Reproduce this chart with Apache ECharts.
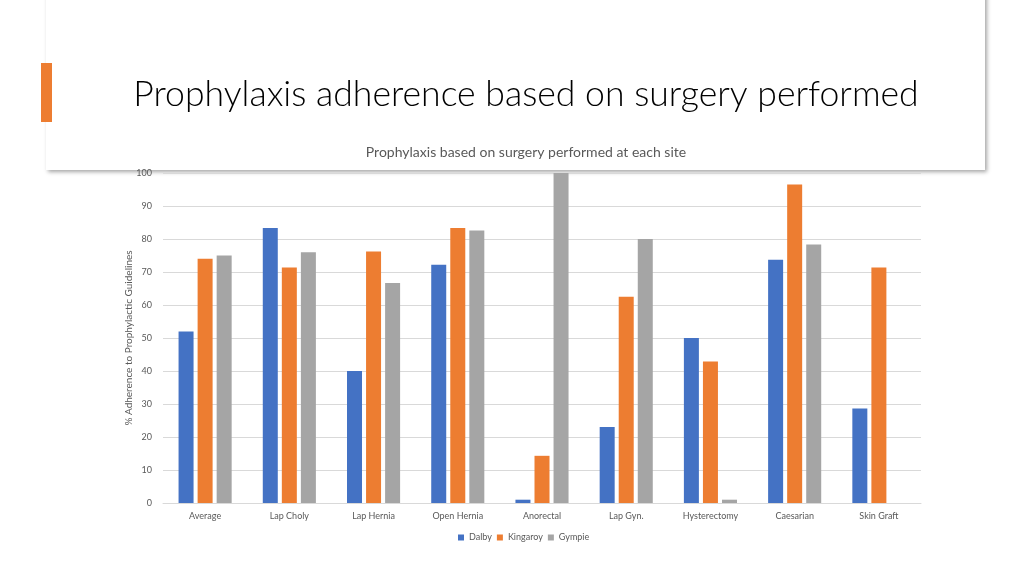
<!DOCTYPE html>
<html><head><meta charset="utf-8">
<script src="https://cdn.jsdelivr.net/npm/echarts@6/dist/echarts.min.js"></script>
<style>html,body{margin:0;padding:0;background:#fff}#c{width:1024px;height:576px}</style>
</head><body><div id="c"></div>
<script>
const categories = ['Average','Lap Choly','Lap Hernia','Open Hernia','Anorectal','Lap Gyn.','Hysterectomy','Caesarian','Skin Graft'];
const dalby    = [52, 83.3, 40, 72.2, 1, 23, 50, 73.7, 28.6];
const kingaroy = [74, 71.4, 76.2, 83.3, 14.3, 62.5, 42.9, 96.5, 71.4];
const gympie   = [75, 76, 66.7, 82.6, 100, 80, 1, 78.3, 0];
const yTicks = {min:0, max:100, interval:10};

const font = 'Lato, "Open Sans", sans-serif';
const chart = echarts.init(document.getElementById('c'));
chart.setOption({
  animation:false,
  backgroundColor:'#fff',
  title:[
    {text:'Prophylaxis adherence based on surgery performed', left:521, top:72, textAlign:'center',
     textStyle:{fontFamily:font, fontWeight:300, fontSize:35.6, color:'#000'}},
    {text:'Prophylaxis based on surgery performed at each site', left:521, top:140, textAlign:'center',
     textStyle:{fontFamily:font, fontWeight:'normal', fontSize:14, color:'#595959'}}
  ],
  graphic:[
    {type:'rect', z:-1, shape:{x:46,y:-10,width:939,height:180}, style:{fill:'#fff', shadowBlur:4, shadowOffsetX:2, shadowOffsetY:2, shadowColor:'rgba(0,0,0,0.35)'}},
    {type:'rect', z:-1, shape:{x:41,y:63,width:11,height:59}, style:{fill:'#ED7D31'}}
  ],
  legend:{bottom:29, left:453, itemWidth:6, itemHeight:6, itemGap:5, icon:'rect',
    textStyle:{fontFamily:font, fontSize:9, color:'#595959'}},
  grid:{left:163, right:103, top:173, bottom:73},
  xAxis:{type:'category', data:categories,
    axisLine:{lineStyle:{color:'#d9d9d9'}}, axisTick:{show:false},
    axisLabel:{fontFamily:font, fontSize:9, color:'#595959', margin:9}},
  yAxis:{type:'value', min:yTicks.min, max:yTicks.max, interval:yTicks.interval,
    name:'% Adherence to Prophylactic Guidelines', nameLocation:'middle', nameGap:29, nameMoveOverlap:false,
    nameTextStyle:{fontFamily:font, fontSize:10, color:'#595959'},
    axisLine:{show:false}, axisTick:{show:false},
    axisLabel:{fontFamily:font, fontSize:9, color:'#595959', margin:11},
    splitLine:{lineStyle:{color:'#d9d9d9'}}},
  series:[
    {name:'Dalby', type:'bar', data:dalby, itemStyle:{color:'#4472C4'}, barWidth:15, barGap:'27%'},
    {name:'Kingaroy', type:'bar', data:kingaroy, itemStyle:{color:'#ED7D31'}, barWidth:15, barGap:'27%'},
    {name:'Gympie', type:'bar', data:gympie, itemStyle:{color:'#A5A5A5'}, barWidth:15, barGap:'27%'}
  ]
});
</script></body></html>
